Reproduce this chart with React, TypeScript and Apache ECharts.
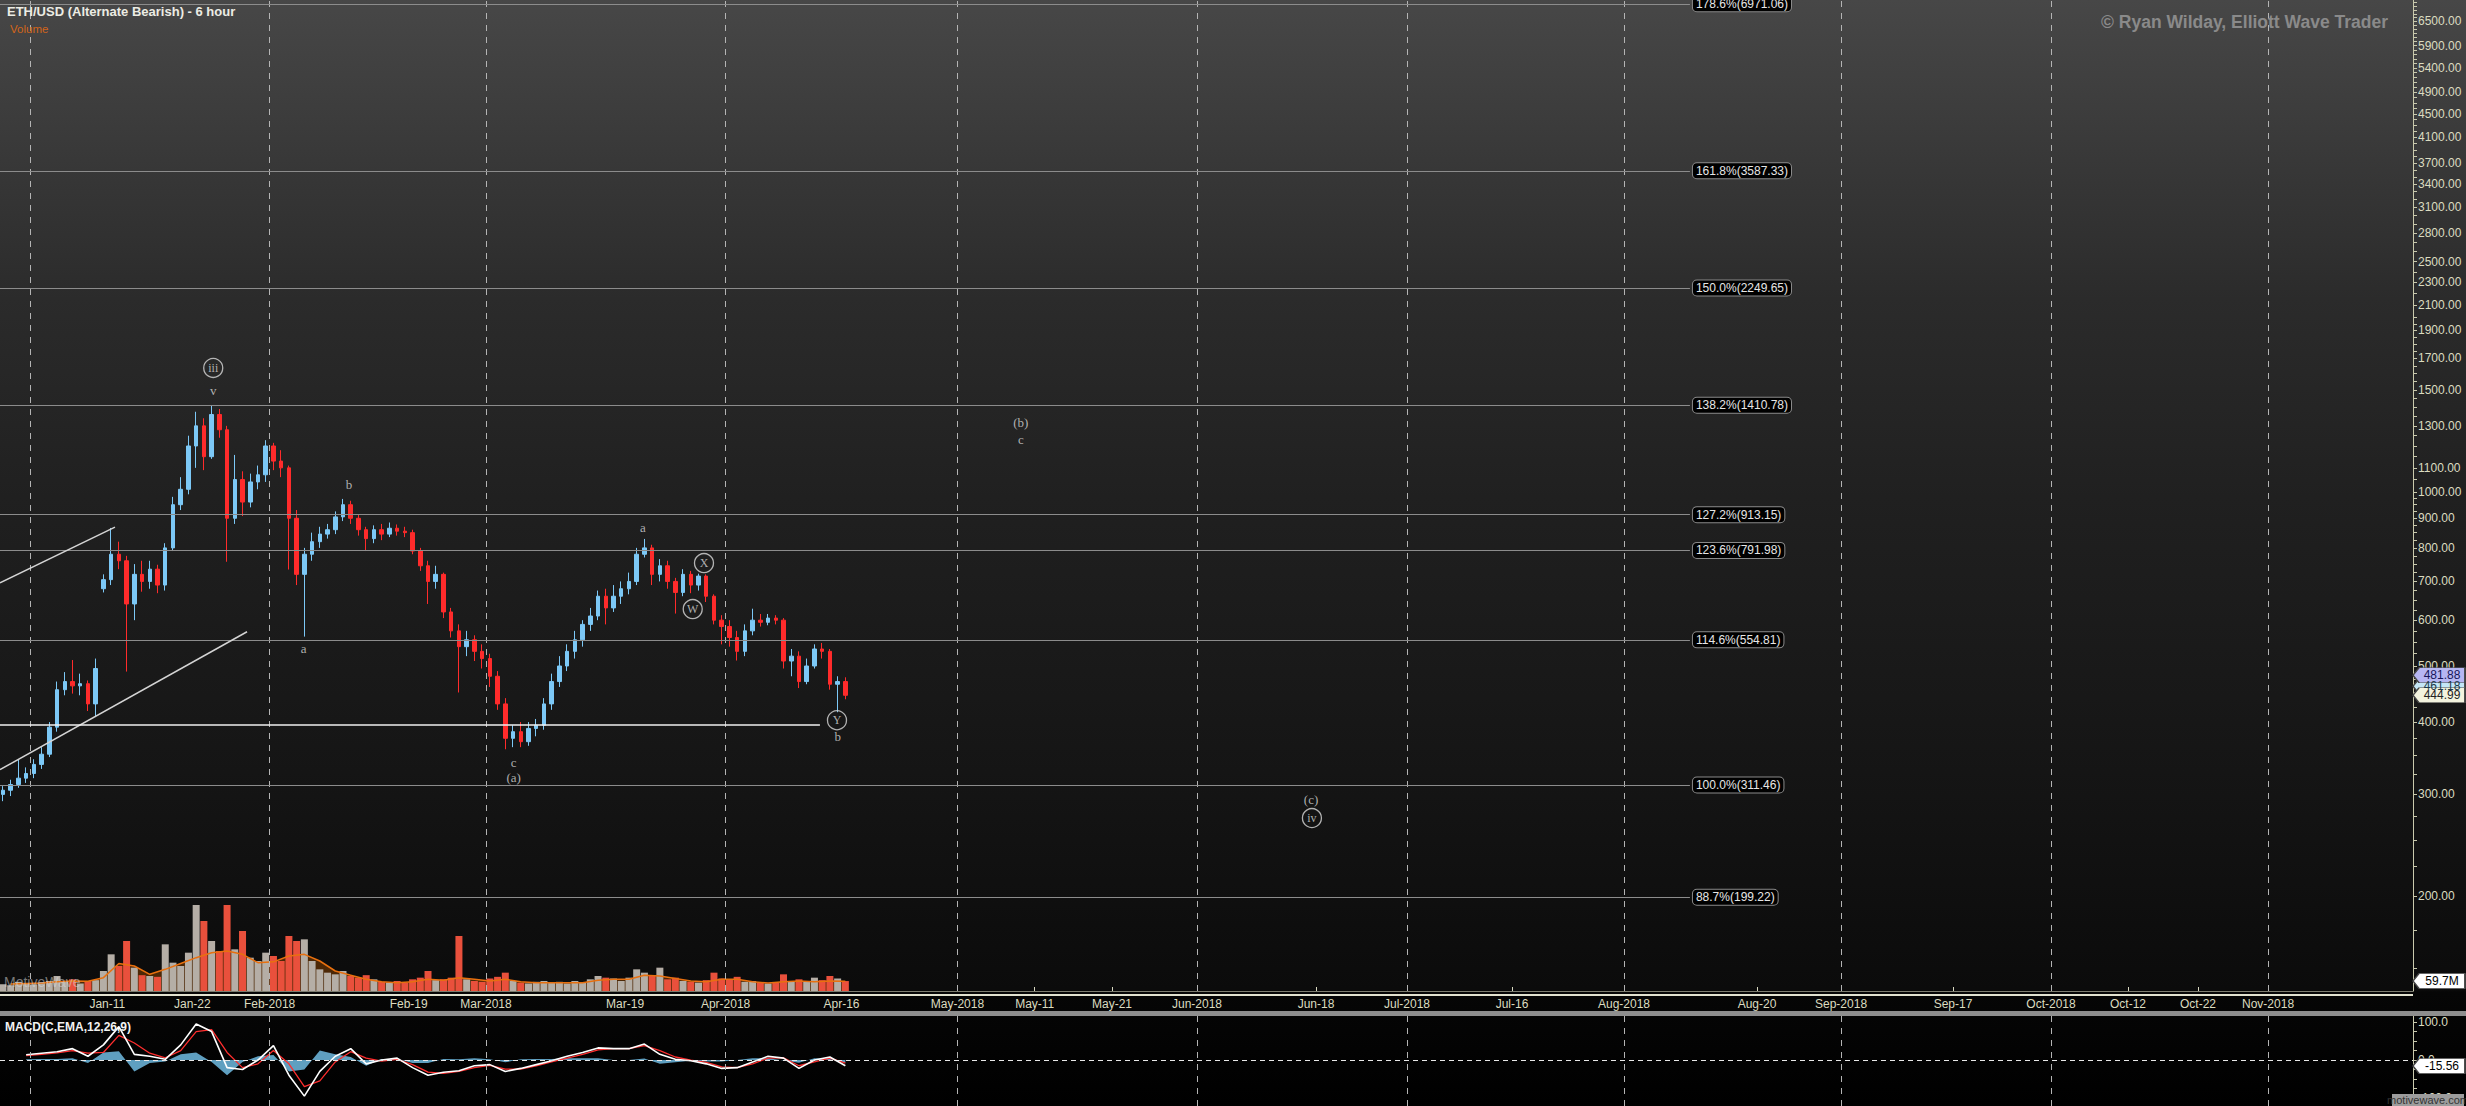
import React, { useEffect, useRef } from "react";
import * as echarts from "echarts";

const WIDTH = 2466;
const HEIGHT = 1106;

// ---------------- data ----------------
const FIRST_CANDLE_DAY = "2017-12-28";
// daily candles [open, close, low, high]
const dailyOHLC: number[][] = [
  [300, 305, 292, 310], [305, 312, 298, 318], [312, 320, 308, 344], [320, 326, 314, 334],
  [326, 338, 320, 345], [338, 352, 332, 362], [352, 392, 348, 400], [392, 455, 385, 470],
  [455, 470, 445, 488], [470, 462, 448, 512], [462, 466, 445, 485], [466, 430, 418, 472],
  [430, 495, 408, 515], [680, 705, 670, 720], [705, 780, 690, 866], [780, 760, 735, 820],
  [760, 640, 489, 775], [640, 720, 600, 750], [720, 700, 672, 760], [700, 735, 680, 760],
  [735, 690, 668, 748], [690, 800, 675, 815], [800, 950, 790, 980], [950, 1010, 930, 1060],
  [1010, 1200, 990, 1250], [1200, 1300, 1100, 1375], [1300, 1150, 1090, 1340], [1150, 1360, 1140, 1411],
  [1360, 1280, 1240, 1390], [1280, 900, 757, 1300], [900, 1050, 880, 1158], [1050, 960, 908, 1085],
  [960, 1040, 940, 1075], [1040, 1070, 1010, 1110], [1070, 1200, 1040, 1228], [1200, 1130, 1090, 1215],
  [1130, 1100, 1060, 1180], [1100, 900, 734, 1110], [900, 720, 690, 930], [720, 780, 562, 800],
  [780, 820, 760, 850], [820, 845, 800, 870], [845, 860, 830, 880], [860, 905, 845, 925],
  [905, 950, 890, 972], [950, 900, 880, 965], [900, 860, 840, 915], [860, 830, 790, 870],
  [830, 860, 815, 875], [860, 845, 825, 880], [845, 865, 835, 885], [865, 855, 840, 878],
  [855, 850, 835, 870], [850, 790, 780, 860], [790, 745, 730, 800], [745, 700, 640, 760],
  [700, 720, 680, 745], [720, 620, 605, 725], [620, 575, 560, 630], [575, 540, 450, 590],
  [540, 555, 520, 575], [555, 530, 510, 565], [530, 515, 495, 545], [515, 480, 460, 525],
  [480, 430, 420, 490], [430, 375, 359, 440], [375, 385, 362, 395], [385, 370, 362, 400],
  [370, 390, 364, 400], [390, 395, 378, 405], [395, 430, 388, 440], [430, 470, 420, 485],
  [470, 500, 460, 520], [500, 530, 490, 545], [530, 555, 515, 575], [555, 590, 540, 600],
  [590, 610, 575, 630], [610, 660, 600, 675], [660, 630, 590, 680], [630, 660, 620, 690],
  [660, 680, 640, 700], [680, 700, 665, 725], [700, 780, 690, 800], [780, 800, 770, 829],
  [800, 720, 690, 810], [720, 745, 700, 765], [745, 700, 680, 760], [700, 670, 616, 710],
  [670, 720, 660, 735], [720, 690, 668, 730], [690, 715, 675, 722], [715, 660, 645, 720],
  [660, 600, 590, 665], [600, 585, 545, 612], [585, 560, 540, 600], [560, 530, 511, 575],
  [530, 575, 520, 590], [575, 600, 565, 628], [600, 595, 585, 615], [595, 605, 588, 615],
  [605, 600, 590, 612], [600, 510, 495, 605], [510, 520, 480, 535], [520, 470, 458, 530],
  [470, 500, 465, 515], [500, 535, 495, 545], [535, 530, 515, 548], [530, 465, 455, 535],
  [465, 470, 416, 480], [470, 445, 438, 478],
];
// daily volume, millions
const dailyVolumeM: number[] = [
  40, 35, 55, 45, 40, 50, 60, 90, 55, 70,
  45, 60, 65, 120, 220, 150, 300, 140, 95, 90,
  85, 280, 170, 150, 230, 516, 420, 300, 240, 516,
  250, 360, 200, 180, 230, 210, 180, 330, 300, 310,
  180, 130, 110, 100, 120, 90, 80, 95, 70, 55,
  50, 60, 50, 70, 80, 120, 65, 70, 80, 330,
  70, 60, 55, 75, 85, 110, 60, 50, 45, 55,
  60, 50, 55, 45, 60, 50, 70, 90, 80, 75,
  60, 80, 130, 110, 90, 140, 70, 80, 60, 55,
  50, 65, 110, 75, 70, 85, 55, 60, 50, 45,
  50, 100, 60, 70, 55, 80, 65, 90, 75, 59.7,
];
// volume moving average, every 2 days
const VOLUME_MA_FIRST_DAY = "2017-12-29";
const volumeMaM: number[] = [
  42, 45, 48, 55, 60, 58, 80, 165, 150, 100,
  130, 165, 200, 230, 240, 220, 170, 175, 210, 220,
  180, 120, 95, 70, 55, 50, 55, 70, 65, 80,
  70, 60, 70, 55, 50, 50, 50, 50, 65, 70,
  70, 95, 90, 75, 60, 55, 70, 70, 55, 48,
  55, 60, 55, 60, 58,
];
// MACD(12,26,9), every 2 days
const MACD_FIRST_DAY = "2017-12-31";
const macdLine: number[] = [
  14, 18, 22, 30, 10, 40, 88, 15, 10, 2,
  40, 95, 75, -20, -25, 0, 38, -40, -95, -30,
  10, 30, -10, 0, 5, -20, -40, -32, -28, -15,
  -12, -30, -22, -12, -2, 10, 20, 32, 30, 30,
  42, 15, 2, -2, -10, -22, -20, -5, 10, 5,
  -22, 0, 8, -15,
];
const macdSignal: number[] = [
  12, 15, 19, 25, 18, 20, 65, 45, 18, 6,
  25, 75, 80, 20, -20, -10, 25, -10, -70, -55,
  -5, 22, 5, -3, 2, -12, -32, -35, -30, -20,
  -14, -24, -24, -15, -5, 5, 15, 27, 30, 30,
  38, 25, 8, 0, -6, -18, -20, -10, 5, 6,
  -15, -5, 5, -8,
];

const priceAxisLabels = [200, 300, 400, 500, 600, 700, 800, 900, 1000, 1100, 1300, 1500, 1700, 1900, 2100, 2300, 2500, 2800, 3100, 3400, 3700, 4100, 4500, 4900, 5400, 5900, 6500];
const macdAxisLabels = [100, 0, -100];
const macdAxisTicks = [-100, -75, -50, -25, 0, 25, 50, 75, 100];

const pastDateLabels = ["2018-01-11", "2018-01-22", "2018-02-01", "2018-02-19", "2018-03-01", "2018-03-19", "2018-04-01", "2018-04-16", "2018-05-01", "2018-05-11", "2018-05-21"];
const futureDateLabels = ["2018-06-01", "2018-06-18", "2018-07-01", "2018-07-16", "2018-08-01", "2018-08-20", "2018-09-01", "2018-09-17", "2018-10-01", "2018-10-12", "2018-10-22", "2018-11-01"];
const pastMonthStarts = ["2018-01-01", "2018-02-01", "2018-03-01", "2018-04-01", "2018-05-01"];
const futureMonthStarts = ["2018-06-01", "2018-07-01", "2018-08-01", "2018-09-01", "2018-10-01", "2018-11-01"];

const fibLevels = [
  { pct: "178.6%", price: 6971.06 },
  { pct: "161.8%", price: 3587.33 },
  { pct: "150.0%", price: 2249.65 },
  { pct: "138.2%", price: 1410.78 },
  { pct: "127.2%", price: 913.15 },
  { pct: "123.6%", price: 791.98 },
  { pct: "114.6%", price: 554.81 },
  { pct: "100.0%", price: 311.46 },
  { pct: "88.7%", price: 199.22 },
];
const FIB_LINE_END = "2018-08-10T10:00:00Z";

const trendLines = [
  { from: ["2017-12-28T02:50:00Z", 696], to: ["2018-01-12T00:00:00Z", 869], color: "#d4d4d4", width: 1.5 },
  { from: ["2017-12-28T02:50:00Z", 331], to: ["2018-01-29T02:00:00Z", 573], color: "#d4d4d4", width: 1.5 },
  { from: ["2017-12-28T02:50:00Z", 395], to: ["2018-04-13T05:00:00Z", 395], color: "#f0f0f0", width: 1.6 },
];

const waveLabels = [
  { text: "iii", date: "2018-01-24T17:00:00Z", price: 1637, circled: true },
  { text: "v", date: "2018-01-24T17:00:00Z", price: 1494, circled: false },
  { text: "a", date: "2018-02-05T10:00:00Z", price: 537, circled: false },
  { text: "b", date: "2018-02-11T07:00:00Z", price: 1028, circled: false },
  { text: "c", date: "2018-03-04T14:00:00Z", price: 340, circled: false },
  { text: "(a)", date: "2018-03-04T14:00:00Z", price: 321, circled: false },
  { text: "a", date: "2018-03-21T07:00:00Z", price: 866, circled: false },
  { text: "X", date: "2018-03-29T05:00:00Z", price: 753, circled: true },
  { text: "W", date: "2018-03-27T18:00:00Z", price: 627, circled: true },
  { text: "Y", date: "2018-04-15T10:00:00Z", price: 403, circled: true },
  { text: "b", date: "2018-04-15T12:00:00Z", price: 378, circled: false },
  { text: "(b)", date: "2018-05-09T05:00:00Z", price: 1316, circled: false },
  { text: "c", date: "2018-05-09T05:00:00Z", price: 1233, circled: false },
  { text: "(c)", date: "2018-06-17T07:00:00Z", price: 294.5, circled: false },
  { text: "iv", date: "2018-06-17T10:00:00Z", price: 273, circled: true },
];

const lastPriceTags = [
  { value: 461.18, bg: "#c4e6f6", fg: "#1d3a4a" },
  { value: 481.88, bg: "#b6b6f2", fg: "#17175a" },
  { value: 444.99, bg: "#f3f3de", fg: "#222222" },
];
const LAST_VOLUME_M = 59.7;
const LAST_MACD = -15.56;

// ---------------- layout ----------------
const PAST_MIN = Date.parse("2017-12-28T02:50:00Z");
const SPLIT = Date.parse("2018-06-01T00:00:00Z");
const FUTURE_MAX = Date.parse("2018-11-21T17:00:00Z");
const SPLIT_X = 1197;
const AXIS_X = 2413;
const PRICE_MIN = 137.2;
const PRICE_MAX = 7077;
const VOLUME_MAX = 546;
const MACD_MIN = -121;
const MACD_MAX = 116;

const DAY = 86400000;
const L = Math.log;
const ts = (s: string) => Date.parse(s.length === 10 ? s + "T00:00:00Z" : s);
const MONTHS = ["Jan", "Feb", "Mar", "Apr", "May", "Jun", "Jul", "Aug", "Sep", "Oct", "Nov", "Dec"];
const fmtDate = (v: number) => {
  const d = new Date(v);
  const day = d.getUTCDate();
  return day === 1 ? `${MONTHS[d.getUTCMonth()]}-${d.getUTCFullYear()}` : `${MONTHS[d.getUTCMonth()]}-${String(day).padStart(2, "0")}`;
};
const SANS = '"Liberation Sans", Arial, sans-serif';
const SERIF = '"Liberation Serif", "DejaVu Serif", serif';
const AXIS_COLOR = "#c9c9ad";
const AXIS_TEXT = "#dcdcc0";
const TAG_PATH = "path://M0,8L7,0L60,0L60,16L7,16Z";

function buildOption(): any {
  const candleT0 = ts(FIRST_CANDLE_DAY) + DAY / 2;
  const candleData = dailyOHLC.map((r, i) => [candleT0 + i * DAY, L(r[0]), L(r[1]), L(r[2]), L(r[3])]);
  const volumeData = dailyVolumeM.map((v, i) => ({
    value: [candleT0 + i * DAY, v],
    itemStyle: { color: dailyOHLC[i][1] >= dailyOHLC[i][0] ? "#b5aea6" : "#e9503c" },
  }));
  const maT0 = ts(VOLUME_MA_FIRST_DAY) + DAY / 2;
  const volumeMaData = volumeMaM.map((v, i) => [maT0 + 2 * i * DAY, v]);
  const macdT0 = ts(MACD_FIRST_DAY) + DAY / 2;
  const macdData = macdLine.map((v, i) => [macdT0 + 2 * i * DAY, v]);
  const signalData = macdSignal.map((v, i) => [macdT0 + 2 * i * DAY, v]);
  const histData = macdLine.map((v, i) => [macdT0 + 2 * i * DAY, v - macdSignal[i]]);

  const minorTicks: number[] = [];
  for (let p = 150; p < 1000; p += 25) minorTicks.push(p);
  for (let p = 1000; p < 2000; p += 50) minorTicks.push(p);
  for (let p = 2000; p <= 7000; p += 100) minorTicks.push(p);

  const monthLine = (d: string) => ({ xAxis: ts(d), lineStyle: { color: "#b4b4b4", type: [6, 6], width: 1 } });
  const mlBase = { symbol: ["none", "none"], silent: true, animation: false, label: { show: false }, emphasis: { disabled: true } };
  const fibStyle = { color: "#8c8c8c", width: 1, type: "solid" };

  const dateAxis = (gridIndex: number, min: number, max: number, labels?: string[]) => ({
    type: "value",
    gridIndex,
    min,
    max,
    scale: true,
    axisLine: { show: !!labels, onZero: false, lineStyle: { color: "#7d7d70", width: 1 } },
    axisTick: labels
      ? { show: true, customValues: labels.map(ts), inside: true, length: 4, lineStyle: { color: "#d8d8c0" } }
      : { show: false },
    axisLabel: labels
      ? { show: true, customValues: labels.map(ts), formatter: (v: number) => fmtDate(v), color: AXIS_TEXT, fontSize: 12, fontFamily: SANS, margin: 7 }
      : { show: false },
    splitLine: { show: false },
    axisPointer: { show: false },
  });

  const waveSeries = (xi: number, yi: number, items: any[], circled: boolean, extra: any = {}) => ({
    type: "scatter",
    xAxisIndex: xi,
    yAxisIndex: yi,
    silent: true,
    z: 6,
    clip: false,
    symbol: "circle",
    symbolSize: circled ? 19 : 1,
    itemStyle: circled
      ? { color: "rgba(0,0,0,0)", borderColor: "#d8d8d8", borderWidth: 1.3 }
      : { color: "rgba(0,0,0,0)" },
    label: { show: true, position: "inside", formatter: "{b}", color: "#d6d6d6", fontFamily: SERIF, fontSize: circled ? 12 : 13 },
    data: items.map((w) => ({ name: w.text, value: [ts(w.date), L(w.price)] })),
    ...extra,
  });

  const tag = (coord: number[], text: string, bg: string, fg: string) => ({
    coord,
    itemStyle: { color: bg, borderColor: "#444", borderWidth: 1 },
    label: { show: true, position: "inside", formatter: text, color: fg, fontSize: 12, fontFamily: SANS, offset: [3, 0] },
  });
  const tagBase = { symbol: TAG_PATH, symbolSize: [52, 15], symbolOffset: [26, 0], silent: true, animation: false };

  const pastWaves = waveLabels.filter((w) => ts(w.date) < SPLIT);
  const futureWaves = waveLabels.filter((w) => ts(w.date) >= SPLIT);

  const pastMarkLines = [
    ...pastMonthStarts.map(monthLine),
    ...fibLevels.map((f) => [
      { coord: [PAST_MIN, L(f.price)], lineStyle: fibStyle },
      { coord: [SPLIT, L(f.price)] },
    ]),
    ...trendLines.map((t) => [
      { coord: [ts(t.from[0] as string), L(t.from[1] as number)], lineStyle: { color: t.color, width: t.width, type: "solid" } },
      { coord: [ts(t.to[0] as string), L(t.to[1] as number)] },
    ]),
  ];
  const futureMarkLines = [
    ...futureMonthStarts.map(monthLine),
    ...fibLevels.map((f) => [
      {
        coord: [SPLIT, L(f.price)],
        lineStyle: fibStyle,
        label: {
          show: true,
          position: "end",
          distance: 3,
          formatter: `${f.pct}(${f.price.toFixed(2)})`,
          color: "#e6e6e6",
          fontSize: 12,
          fontFamily: SANS,
          backgroundColor: "#000000",
          borderColor: "#8a8a8a",
          borderWidth: 1,
          borderRadius: 4,
          padding: [2, 3, 1, 3],
        },
      },
      { coord: [ts(FIB_LINE_END), L(f.price)] },
    ]),
  ];

  const bg = new echarts.graphic.LinearGradient(0, 0, 0, 1, [
    { offset: 0, color: "#474747" },
    { offset: 0.27, color: "#2b2b2b" },
    { offset: 0.45, color: "#202020" },
    { offset: 0.72, color: "#141414" },
    { offset: 0.895, color: "#0b0b0b" },
    { offset: 0.897, color: "#060606" },
    { offset: 1, color: "#000000" },
  ]);

  return {
    animation: false,
    backgroundColor: bg,
    textStyle: { fontFamily: SANS },
    grid: [
      { left: 0, top: 0, width: SPLIT_X, height: 991 },
      { left: SPLIT_X, top: 0, width: AXIS_X - SPLIT_X, height: 991 },
      { left: 0, top: 900, width: SPLIT_X, height: 91 },
      { left: SPLIT_X, top: 900, width: AXIS_X - SPLIT_X, height: 91 },
      { left: 0, top: 1016, width: SPLIT_X, height: 90 },
      { left: SPLIT_X, top: 1016, width: AXIS_X - SPLIT_X, height: 90 },
    ],
    xAxis: [
      dateAxis(0, PAST_MIN, SPLIT),
      dateAxis(1, SPLIT, FUTURE_MAX),
      dateAxis(2, PAST_MIN, SPLIT, pastDateLabels),
      dateAxis(3, SPLIT, FUTURE_MAX, futureDateLabels),
      dateAxis(4, PAST_MIN, SPLIT),
      dateAxis(5, SPLIT, FUTURE_MAX),
    ],
    yAxis: [
      { type: "value", gridIndex: 0, min: L(PRICE_MIN), max: L(PRICE_MAX), show: false, splitLine: { show: false } },
      {
        type: "value",
        gridIndex: 1,
        min: L(PRICE_MIN),
        max: L(PRICE_MAX),
        position: "right",
        axisLine: { show: true, lineStyle: { color: AXIS_COLOR } },
        axisTick: { show: true, customValues: minorTicks.map(L), length: 4, lineStyle: { color: AXIS_COLOR } },
        axisLabel: {
          show: true,
          customValues: priceAxisLabels.map(L),
          formatter: (v: number) => Math.round(Math.exp(v)).toFixed(2),
          color: AXIS_TEXT,
          fontSize: 12,
          fontFamily: SANS,
          margin: 5,
        },
        splitLine: { show: false },
      },
      { type: "value", gridIndex: 2, min: 0, max: VOLUME_MAX, show: false, splitLine: { show: false } },
      { type: "value", gridIndex: 3, min: 0, max: VOLUME_MAX, show: false, splitLine: { show: false } },
      { type: "value", gridIndex: 4, min: MACD_MIN, max: MACD_MAX, show: false, splitLine: { show: false } },
      {
        type: "value",
        gridIndex: 5,
        min: MACD_MIN,
        max: MACD_MAX,
        position: "right",
        axisLine: { show: true, lineStyle: { color: AXIS_COLOR } },
        axisTick: { show: true, customValues: macdAxisTicks, length: 4, lineStyle: { color: AXIS_COLOR } },
        axisLabel: {
          show: true,
          customValues: macdAxisLabels,
          formatter: (v: number) => v.toFixed(1),
          color: AXIS_TEXT,
          fontSize: 12,
          fontFamily: SANS,
          margin: 5,
        },
        splitLine: { show: false },
      },
    ],
    series: [
      // price: past
      {
        type: "candlestick",
        xAxisIndex: 0,
        yAxisIndex: 0,
        barWidth: 4,
        silent: true,
        data: candleData,
        itemStyle: { color: "#7cc8f6", color0: "#ff2b2b", borderColor: "#7cc8f6", borderColor0: "#ff2b2b", borderWidth: 1 },
        markLine: { ...mlBase, data: pastMarkLines },
      },
      waveSeries(0, 0, pastWaves.filter((w) => !w.circled), false),
      waveSeries(0, 0, pastWaves.filter((w) => w.circled), true),
      // price: future
      waveSeries(1, 1, futureWaves.filter((w) => !w.circled), false, {
        markLine: { ...mlBase, data: futureMarkLines },
        markPoint: {
          ...tagBase,
          data: lastPriceTags.map((t) => tag([FUTURE_MAX, L(t.value)], t.value.toFixed(2), t.bg, t.fg)),
        },
      }),
      waveSeries(1, 1, futureWaves.filter((w) => w.circled), true),
      // volume
      {
        type: "line",
        xAxisIndex: 2,
        yAxisIndex: 2,
        silent: true,
        z: 1,
        symbol: "none",
        data: volumeMaData,
        lineStyle: { width: 0 },
        areaStyle: { color: "#4d2806", opacity: 1 },
      },
      {
        type: "bar",
        xAxisIndex: 2,
        yAxisIndex: 2,
        silent: true,
        z: 2,
        barWidth: 7,
        data: volumeData,
      },
      {
        type: "line",
        xAxisIndex: 2,
        yAxisIndex: 2,
        silent: true,
        z: 3,
        symbol: "none",
        data: volumeMaData,
        lineStyle: { color: "#e8700f", width: 1.5 },
      },
      {
        type: "line",
        xAxisIndex: 3,
        yAxisIndex: 3,
        silent: true,
        symbol: "none",
        data: [],
        markPoint: { ...tagBase, data: [tag([FUTURE_MAX, LAST_VOLUME_M], `${LAST_VOLUME_M}M`, "#ffffff", "#000000")] },
      },
      // MACD
      {
        type: "line",
        xAxisIndex: 4,
        yAxisIndex: 4,
        silent: true,
        z: 1,
        symbol: "none",
        data: histData,
        lineStyle: { width: 0 },
        areaStyle: { color: "#5f9fc0", opacity: 1 },
        markLine: {
          ...mlBase,
          data: [
            ...pastMonthStarts.map(monthLine),
            { yAxis: 0, lineStyle: { color: "#e8e8e8", type: [5, 4], width: 1 } },
          ],
        },
      },
      {
        type: "line",
        xAxisIndex: 4,
        yAxisIndex: 4,
        silent: true,
        z: 3,
        symbol: "none",
        data: signalData,
        lineStyle: { color: "#ff2e2e", width: 1.3 },
      },
      {
        type: "line",
        xAxisIndex: 4,
        yAxisIndex: 4,
        silent: true,
        z: 4,
        symbol: "none",
        data: macdData,
        lineStyle: { color: "#ffffff", width: 1.6 },
      },
      {
        type: "line",
        xAxisIndex: 5,
        yAxisIndex: 5,
        silent: true,
        symbol: "none",
        data: [],
        markLine: {
          ...mlBase,
          data: [
            ...futureMonthStarts.map(monthLine),
            { yAxis: 0, lineStyle: { color: "#e8e8e8", type: [5, 4], width: 1 } },
          ],
        },
        markPoint: { ...tagBase, data: [tag([FUTURE_MAX, LAST_MACD], LAST_MACD.toFixed(2), "#ffffff", "#000000")] },
      },
    ],
    graphic: [
      { type: "rect", silent: true, z: 50, shape: { x: 0, y: 1011, width: WIDTH, height: 5 }, style: { fill: "#8e8e8e" } },
      { type: "rect", silent: true, z: 50, shape: { x: 0, y: 994, width: AXIS_X, height: 2 }, style: { fill: "#e2e2d0" } },
      {
        type: "text", silent: true, z: 50, x: 7, y: 5,
        style: { text: "ETH/USD (Alternate Bearish) - 6 hour", fill: "#ececE4", font: `bold 13px ${SANS}`, align: "left", verticalAlign: "top" },
      },
      {
        type: "text", silent: true, z: 50, x: 10, y: 23,
        style: { text: "Volume", fill: "#d2641a", font: `11.5px ${SANS}`, align: "left", verticalAlign: "top" },
      },
      {
        type: "text", silent: true, z: 50, x: 2388, y: 22,
        style: { text: "© Ryan Wilday, Elliott Wave Trader", fill: "#8a8a8a", font: `bold 17.5px ${SANS}`, align: "right", verticalAlign: "middle" },
      },
      {
        type: "text", silent: true, z: 50, x: 5, y: 1027,
        style: { text: "MACD(C,EMA,12,26,9)", fill: "#f2f2f2", font: `bold 12px ${SANS}`, align: "left", verticalAlign: "middle" },
      },
      {
        type: "text", silent: true, z: 50, x: 4, y: 982,
        style: { text: "MotiveWave", fill: "rgba(215,215,215,0.55)", font: `14px ${SANS}`, align: "left", verticalAlign: "middle" },
      },
      { type: "rect", silent: true, z: 60, shape: { x: 2392, y: 1094, width: 72, height: 12 }, style: { fill: "#9c9c9c" } },
      {
        type: "text", silent: true, z: 61, x: 2428, y: 1100,
        style: { text: "motivewave.com", fill: "#333333", font: `11px ${SANS}`, align: "center", verticalAlign: "middle" },
      },
    ],
  };
}

export default function App() {
  const ref = useRef<HTMLDivElement>(null);
  useEffect(() => {
    const chart = echarts.init(ref.current as HTMLDivElement, undefined, { renderer: "svg", width: WIDTH, height: HEIGHT });
    chart.setOption(buildOption());
    return () => chart.dispose();
  }, []);
  return (
    <div
      ref={ref}
      style={{ position: "absolute", left: 0, top: 0, width: WIDTH, height: HEIGHT, background: "#000" }}
    />
  );
}
